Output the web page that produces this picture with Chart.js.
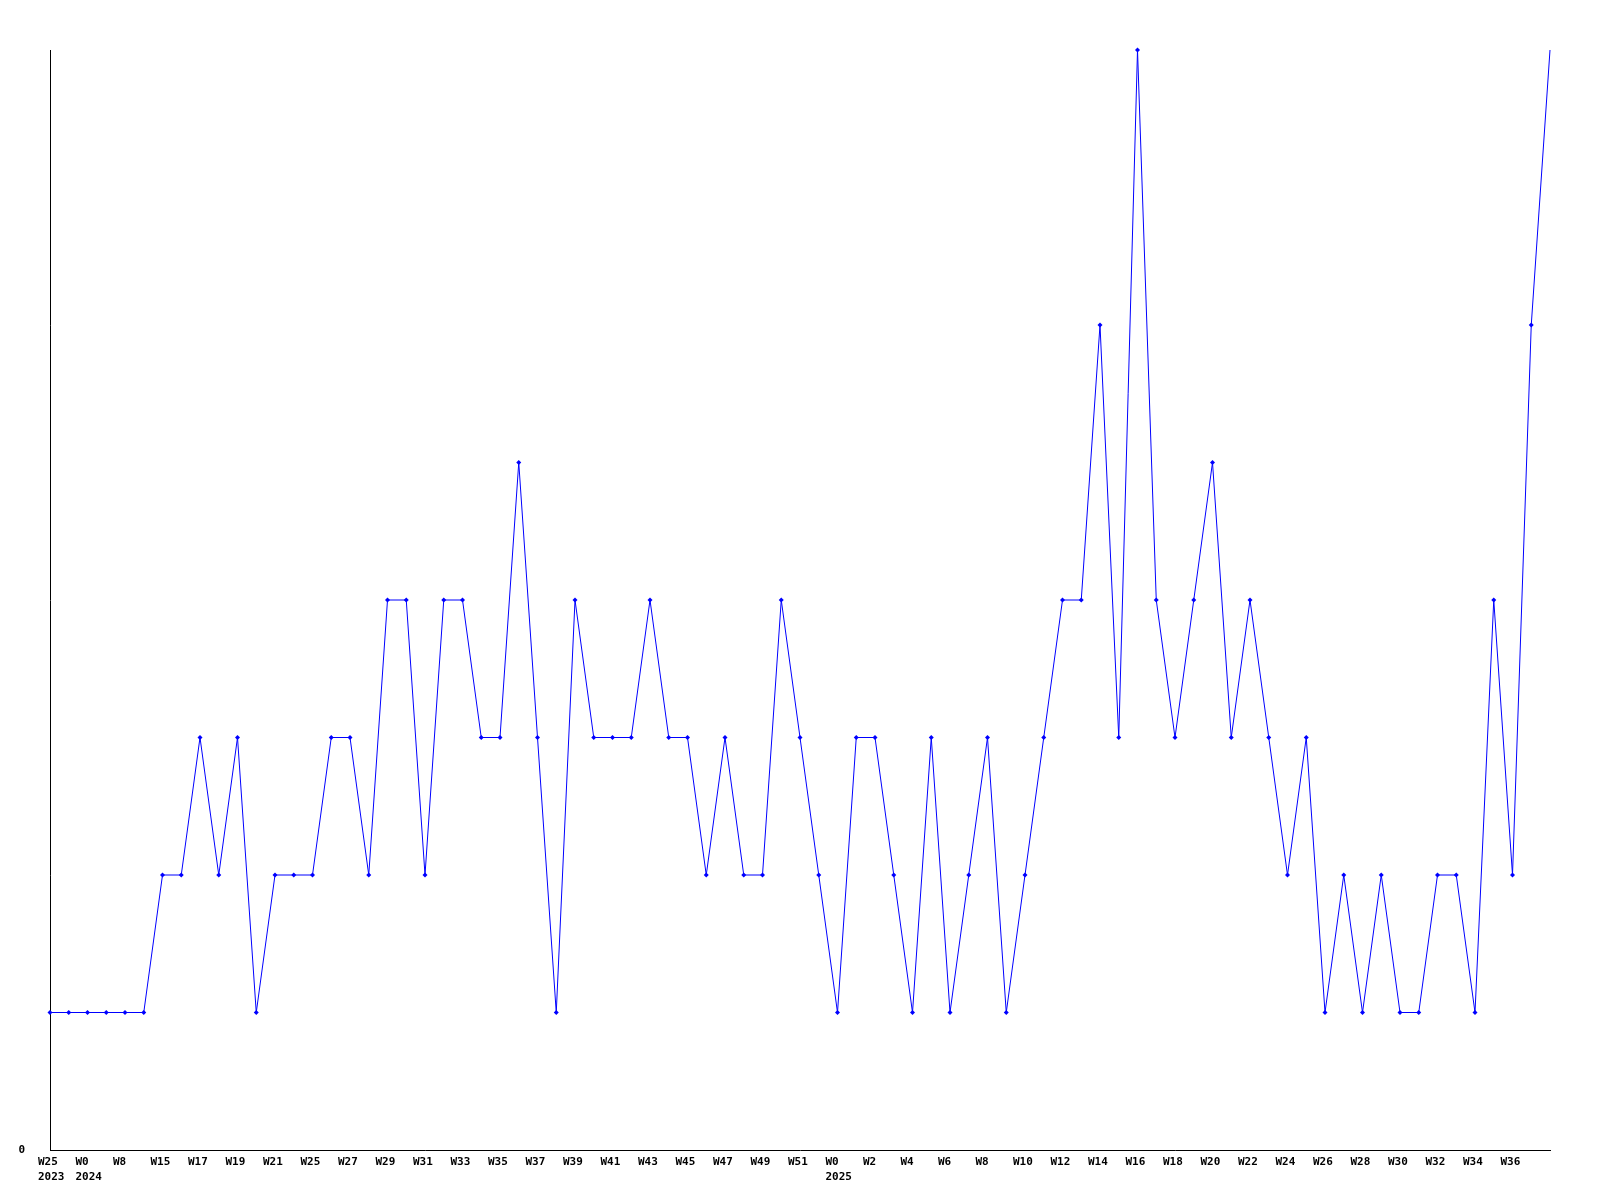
<!DOCTYPE html>
<html lang="en">
<head>
  <meta charset="UTF-8">
  <title>Weekly count</title>
  <script src="https://cdn.jsdelivr.net/npm/chart.js"></script>
  <style>
    html, body { margin: 0; padding: 0; background: #fff; }
    #wrap { width: 1600px; height: 1200px; }
  </style>
</head>
<body>
  <div id="wrap"><canvas id="weekChart" width="1600" height="1200"></canvas></div>

  <script>
    // Week labels, one per point (only every other one is printed on the axis)
    var weeks = [
      ['W25', '2023'], 'W26', ['W0', '2024'], 'W7', 'W8', 'W14', 'W15', 'W16', 'W17', 'W18',
      'W19', 'W20', 'W21', 'W23', 'W25', 'W26', 'W27', 'W28', 'W29', 'W30',
      'W31', 'W32', 'W33', 'W34', 'W35', 'W36', 'W37', 'W38', 'W39', 'W40',
      'W41', 'W42', 'W43', 'W44', 'W45', 'W46', 'W47', 'W48', 'W49', 'W50',
      'W51', 'W52', ['W0', '2025'], 'W1', 'W2', 'W3', 'W4', 'W5', 'W6', 'W7',
      'W8', 'W9', 'W10', 'W11', 'W12', 'W13', 'W14', 'W15', 'W16', 'W17',
      'W18', 'W19', 'W20', 'W21', 'W22', 'W23', 'W24', 'W25', 'W26', 'W27',
      'W28', 'W29', 'W30', 'W31', 'W32', 'W33', 'W34', 'W35', 'W36', 'W37',
      'W38'
    ];

    // Values
    var counts = [
      1, 1, 1, 1, 1, 1, 2, 2, 3, 2,
      3, 1, 2, 2, 2, 3, 3, 2, 4, 4,
      2, 4, 4, 3, 3, 5, 3, 1, 4, 3,
      3, 3, 4, 3, 3, 2, 3, 2, 2, 4,
      3, 2, 1, 3, 3, 2, 1, 3, 1, 2,
      3, 1, 2, 3, 4, 4, 6, 3, 8, 4,
      3, 4, 5, 3, 4, 3, 2, 3, 1, 2,
      1, 2, 1, 1, 2, 2, 1, 4, 2, 6,
      8
    ];

    var yMin = 0;
    var yMax = 8;
    var yTicks = [0];

    var tickFont = { family: 'DejaVu Sans Mono', size: 11, weight: 'bold', lineHeight: '15px' };
    var lastIndex = counts.length - 1;

    var ctx = document.getElementById('weekChart').getContext('2d');
    var chart = new Chart(ctx, {
      type: 'line',
      data: {
        labels: weeks,
        datasets: [{
          data: counts,
          borderColor: '#0000ff',
          backgroundColor: '#0000ff',
          borderWidth: 1,
          pointStyle: 'rectRot',
          // the current (unfinished) week has no marker
          pointRadius: function(c) { return c.dataIndex === lastIndex ? 0 : 2.5; },
          pointBorderWidth: 0,
          pointBackgroundColor: '#0000ff',
          tension: 0,
          fill: false,
          clip: false
        }]
      },
      options: {
        responsive: false,
        animation: false,
        events: [],
        layout: { padding: { top: 50, right: 50, left: 0, bottom: 0 } },
        plugins: {
          legend: { display: false },
          tooltip: { enabled: false }
        },
        scales: {
          x: {
            offset: false,
            grid: { display: false, drawTicks: false },
            border: { display: true, color: '#000', width: 1 },
            ticks: {
              autoSkip: false,
              maxRotation: 0,
              minRotation: 0,
              align: 'start',
              labelOffset: -12,
              padding: 5,
              color: '#000',
              font: tickFont,
              callback: function(value, index) {
                if (index === lastIndex) return '';
                return index % 2 === 0 ? this.getLabelForValue(value) : '';
              }
            },
            afterFit: function(scale) { scale.height = 50; }
          },
          y: {
            min: yMin,
            max: yMax,
            grid: { display: false, drawTicks: false },
            border: { display: true, color: '#000', width: 1 },
            ticks: {
              padding: 25,
              color: '#000',
              font: tickFont
            },
            afterBuildTicks: function(scale) {
              scale.ticks = yTicks.map(function(v) { return { value: v }; });
            },
            afterFit: function(scale) { scale.width = 50; }
          }
        }
      }
    });
  </script>
</body>
</html>
